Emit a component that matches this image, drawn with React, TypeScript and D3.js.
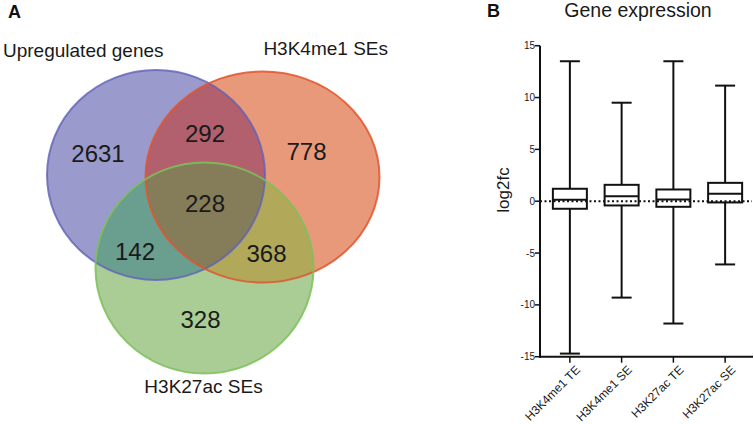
import React from "react";
import * as d3 from "d3";

// ---------- Panel A data ----------
const setNames = ["Upregulated genes", "H3K4me1 SEs", "H3K27ac SEs"];
const regionKeys = ["U", "K4", "K27", "U_K4", "U_K27", "K4_K27", "all"];
const regionCounts = [2631, 778, 328, 292, 142, 368, 228];

// ---------- Panel B data ----------
const groups = ["H3K4me1 TE", "H3K4me1 SE", "H3K27ac TE", "H3K27ac SE"];
const whiskerMax = [13.5, 9.5, 13.5, 11.15];
const q3 = [1.2, 1.58, 1.13, 1.77];
const medians = [0.13, 0.48, 0.16, 0.71];
const q1 = [-0.73, -0.41, -0.54, -0.12];
const whiskerMin = [-14.7, -9.3, -11.8, -6.1];
const yTicks = [15, 10, 5, 0, -5, -10, -15];

const FONT = "'Liberation Sans', Arial, Helvetica, sans-serif";

// Venn layout
const ellipses = {
  U: { cx: 156, cy: 175, rx: 109, ry: 105 },
  K4: { cx: 262.5, cy: 177, rx: 117, ry: 105.5 },
  K27: { cx: 204.5, cy: 268, rx: 109, ry: 105.5 },
};
const regionPos: Record<string, [number, number]> = {
  U: [98, 161.5],
  K4: [306.5, 160],
  K27: [200.5, 328],
  U_K4: [205, 141.5],
  U_K27: [135, 260],
  K4_K27: [266.5, 261.5],
  all: [205, 211.5],
};
const regionColor: Record<string, string> = {
  U: "#9a9acd",
  K4: "#e8997a",
  K27: "#aacd95",
  U_K4: "#b2606e",
  U_K27: "#6a9e8e",
  K4_K27: "#b2a85a",
  all: "#857c5a",
};

function Venn() {
  const E = (k: keyof typeof ellipses, props: any = {}) => (
    <ellipse cx={ellipses[k].cx} cy={ellipses[k].cy} rx={ellipses[k].rx} ry={ellipses[k].ry} {...props} />
  );
  return (
    <g>
      <defs>
        <clipPath id="clipU">{E("U")}</clipPath>
        <clipPath id="clipK4">{E("K4")}</clipPath>
      </defs>
      {E("U", { fill: regionColor.U })}
      {E("K4", { fill: regionColor.K4 })}
      {E("K27", { fill: regionColor.K27 })}
      <g clipPath="url(#clipU)">{E("K4", { fill: regionColor.U_K4 })}</g>
      <g clipPath="url(#clipU)">{E("K27", { fill: regionColor.U_K27 })}</g>
      <g clipPath="url(#clipK4)">{E("K27", { fill: regionColor.K4_K27 })}</g>
      <g clipPath="url(#clipU)">
        <g clipPath="url(#clipK4)">{E("K27", { fill: regionColor.all })}</g>
      </g>
      {E("U", { fill: "none", stroke: "#6262b8", strokeWidth: 2, strokeOpacity: 0.8 })}
      {E("K4", { fill: "none", stroke: "#e0552e", strokeWidth: 2, strokeOpacity: 0.85 })}
      {E("K27", { fill: "none", stroke: "#7dbf5a", strokeWidth: 2, strokeOpacity: 0.85 })}
      {regionKeys.map((k, i) => (
        <text key={k} x={regionPos[k][0]} y={regionPos[k][1]} textAnchor="middle"
          fontSize={24} fontFamily={FONT} fill="#1a1a1a">{regionCounts[i]}</text>
      ))}
      <text x={3} y={56.5} fontSize={19} fontFamily={FONT} fill="#1a1a1a">{setNames[0]}</text>
      <text x={388} y={55} textAnchor="end" fontSize={19} fontFamily={FONT} fill="#1a1a1a">{setNames[1]}</text>
      <text x={203.5} y={392.5} textAnchor="middle" fontSize={19} fontFamily={FONT} fill="#1a1a1a">{setNames[2]}</text>
      <text x={8} y={18} fontSize={18} fontWeight="bold" fontFamily={FONT} fill="#111">A</text>
    </g>
  );
}

function BoxPlot() {
  const y = d3.scaleLinear().domain([-15, 15]).range([356.7, 45.7]);
  const x = d3.scaleBand().domain(groups).range([544, 751]).paddingInner(0).paddingOuter(0);
  const boxW = 34;
  const capW = 20;
  const axisX = 540;
  return (
    <g fontFamily={FONT}>
      <text x={487} y={17} fontSize={18} fontWeight="bold" fill="#111">B</text>
      <text x={638} y={17} textAnchor="middle" fontSize={19.5} fill="#1a1a1a">Gene expression</text>
      {/* zero dotted line */}
      <line x1={axisX} x2={752} y1={y(0)} y2={y(0)} stroke="#111" strokeWidth={2} strokeDasharray="2,2.5" />
      {groups.map((g, i) => {
        const cx = (x(g) as number) + x.bandwidth() / 2;
        return (
          <g key={g} stroke="#111" strokeWidth={2} fill="none">
            <line x1={cx} x2={cx} y1={y(whiskerMax[i])} y2={y(q3[i])} />
            <line x1={cx} x2={cx} y1={y(q1[i])} y2={y(whiskerMin[i])} />
            <line x1={cx - capW / 2} x2={cx + capW / 2} y1={y(whiskerMax[i])} y2={y(whiskerMax[i])} />
            <line x1={cx - capW / 2} x2={cx + capW / 2} y1={y(whiskerMin[i])} y2={y(whiskerMin[i])} />
            <rect x={cx - boxW / 2} y={y(q3[i])} width={boxW} height={y(q1[i]) - y(q3[i])} />
            <line x1={cx - boxW / 2} x2={cx + boxW / 2} y1={y(medians[i])} y2={y(medians[i])} />
          </g>
        );
      })}
      {/* axes */}
      <line x1={axisX} x2={axisX} y1={y(15)} y2={y(-15) + 1} stroke="#111" strokeWidth={2} />
      <line x1={axisX - 1} x2={753} y1={y(-15)} y2={y(-15)} stroke="#111" strokeWidth={2} />
      {yTicks.map((t) => (
        <g key={t}>
          <line x1={axisX - 5} x2={axisX} y1={y(t)} y2={y(t)} stroke="#111" strokeWidth={1.5} />
          <text x={axisX - 5} y={y(t)} dy="0.35em" textAnchor="end" fontSize={10} fill="#1a1a1a">{t}</text>
        </g>
      ))}
      {groups.map((g) => {
        const cx = (x(g) as number) + x.bandwidth() / 2;
        const ty = y(-15) + 8;
        return (
          <g key={g}>
            <line x1={cx} x2={cx} y1={y(-15)} y2={y(-15) + 6} stroke="#111" strokeWidth={1.5} />
            <text x={cx + 5} y={ty} textAnchor="end" fontSize={12} fill="#1a1a1a"
              transform={`rotate(-45 ${cx + 5} ${ty})`} dy="0.7em">{g}</text>
          </g>
        );
      })}
      <text transform={`translate(509,190) rotate(-90)`} textAnchor="middle" fontSize={17} fill="#1a1a1a">log2fc</text>
    </g>
  );
}

export default function App() {
  return (
    <svg width={754} height={424} style={{ position: "absolute", left: 0, top: 0, background: "#fff" }}>
      <rect width={754} height={424} fill="#fff" />
      <Venn />
      <BoxPlot />
    </svg>
  );
}
